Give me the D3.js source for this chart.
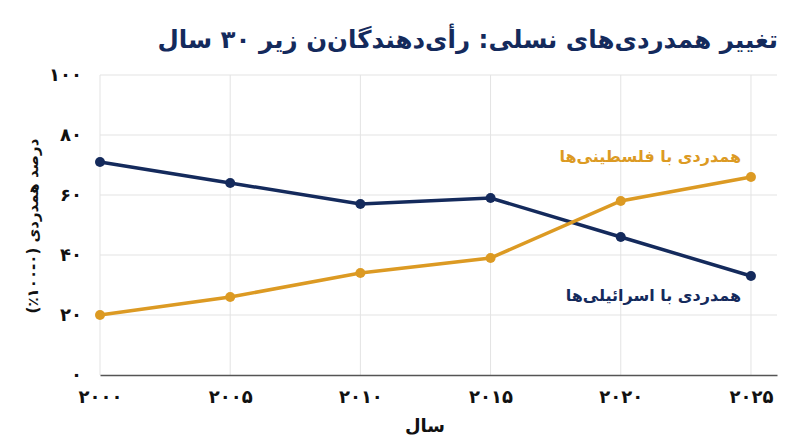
<!DOCTYPE html>
<html lang="fa" dir="rtl">
<head>
<meta charset="utf-8">
<script src="https://cdn.jsdelivr.net/npm/d3@7"></script>
<style>
  html, body { margin: 0; padding: 0; background: #fff; }
  svg text { font-family: "DejaVu Sans", sans-serif; font-weight: bold; }
</style>
</head>
<body>
<div id="chart-container"></div>
<script>
// data
const years = [2000, 2005, 2010, 2015, 2020, 2025]
const israelSympathy = [71, 64, 57, 59, 46, 33]
const palestineSympathy = [20, 26, 34, 39, 58, 66]
const yTicks = [0, 20, 40, 60, 80, 100]

const titleText = 'تغییر همدردی‌های نسلی: رأی‌دهندگان‌ن زیر ۳۰ سال'
const xTitle = 'سال'
const yTitle = 'درصد همدردی (۰-۱۰۰٪)'
const israelLabel = 'همدردی با اسرائیلی‌ها'
const palestineLabel = 'همدردی با فلسطینی‌ها'

// constants
const width = 800
const height = 447
const margin = {left: 100, top: 75, right: 23, bottom: 72}
const navy = '#142a5c'
const orange = '#dc9a23'

const faNum = n => String(n).replace(/\d/g, d => '۰۱۲۳۴۵۶۷۸۹'[d])

const svg = d3.select('#chart-container')
  .append('svg')
  .attr('width', width)
  .attr('height', height)

const xScale = d3.scaleLinear()
  .domain([2000, 2026])
  .range([margin.left, width - margin.right])

const yScale = d3.scaleLinear()
  .domain([0, 100])
  .range([height - margin.bottom, margin.top])

// grid
svg.append('g')
  .selectAll('line')
  .data(yTicks.slice(1)).enter()
  .append('line')
  .attr('x1', xScale(2000))
  .attr('x2', xScale(2026))
  .attr('y1', d => yScale(d))
  .attr('y2', d => yScale(d))
  .style('stroke', '#e3e3e3')
  .style('stroke-width', 1)

svg.append('g')
  .selectAll('line')
  .data(years).enter()
  .append('line')
  .attr('x1', d => xScale(d))
  .attr('x2', d => xScale(d))
  .attr('y1', yScale(0))
  .attr('y2', yScale(100))
  .style('stroke', '#e3e3e3')
  .style('stroke-width', 1)

// axes
const xAxis = d3.axisBottom(xScale)
  .tickValues(years)
  .tickSize(0)
  .tickPadding(15)
  .tickFormat(faNum)
const xAxisG = svg.append('g')
  .attr('transform', `translate(0, ${yScale(0)})`)
  .call(xAxis)
xAxisG.select('.domain').style('stroke', '#555').style('stroke-width', 1.5)
xAxisG.selectAll('text')
  .attr('fill', '#111')
  .attr('font-size', '18px')
  .attr('direction', 'ltr')

const yAxis = d3.axisLeft(yScale)
  .tickValues(yTicks)
  .tickSize(0)
  .tickPadding(18)
  .tickFormat(faNum)
const yAxisG = svg.append('g')
  .attr('transform', `translate(${margin.left}, 0)`)
  .call(yAxis)
yAxisG.select('.domain').remove()
yAxisG.selectAll('text')
  .attr('fill', '#111')
  .attr('font-size', '18px')
  .attr('direction', 'ltr')

// lines
const line = d3.line()
  .x((d, i) => xScale(years[i]))
  .y(d => yScale(d))

const series = [
  {values: israelSympathy, color: navy},
  {values: palestineSympathy, color: orange}
]

series.forEach(s => {
  svg.append('path')
    .datum(s.values)
    .attr('d', line)
    .attr('fill', 'none')
    .style('stroke', s.color)
    .style('stroke-width', 3.5)
  svg.append('g')
    .selectAll('circle')
    .data(s.values).enter()
    .append('circle')
    .attr('cx', (d, i) => xScale(years[i]))
    .attr('cy', d => yScale(d))
    .attr('r', 5)
    .attr('fill', s.color)
})

// labels
svg.append('text')
  .attr('x', 741)
  .attr('y', 162)
  .attr('text-anchor', 'start')
  .attr('fill', orange)
  .attr('font-size', '16px')
  .text(palestineLabel)

svg.append('text')
  .attr('x', 741)
  .attr('y', 301)
  .attr('text-anchor', 'start')
  .attr('fill', navy)
  .attr('font-size', '16px')
  .text(israelLabel)

svg.append('text')
  .attr('x', 778)
  .attr('y', 48)
  .attr('text-anchor', 'start')
  .attr('fill', navy)
  .attr('font-size', '24.5px')
  .text(titleText)

svg.append('text')
  .attr('x', 425)
  .attr('y', 432)
  .attr('text-anchor', 'middle')
  .attr('fill', '#111')
  .attr('font-size', '18px')
  .text(xTitle)

svg.append('text')
  .attr('transform', 'translate(38, 226) rotate(-90)')
  .attr('text-anchor', 'middle')
  .attr('fill', '#111')
  .attr('font-size', '15px')
  .text(yTitle)
</script>
</body>
</html>
